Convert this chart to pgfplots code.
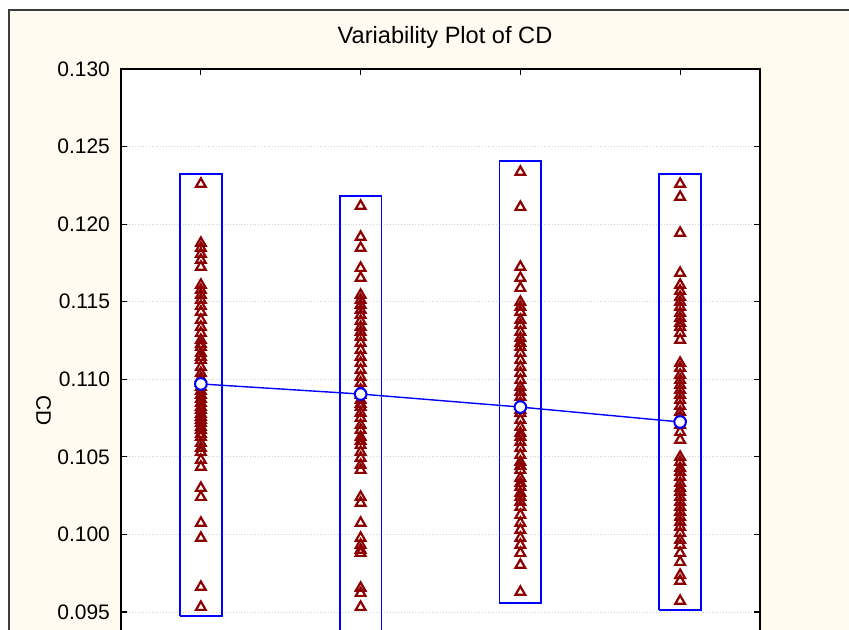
\documentclass[border=0pt]{standalone}
\usepackage{fontspec}
\setmainfont{Liberation Sans}
\usepackage{pgfplots}
\pgfplotsset{compat=1.18}
\definecolor{cream}{RGB}{255,251,240}
\definecolor{tri}{RGB}{140,0,0}
\definecolor{framegray}{RGB}{60,60,60}
\begin{document}
\begin{tikzpicture}
\fill[white] (0,0) rectangle (424.5pt,-315pt);
\filldraw[fill=cream, draw=framegray, line width=0.6pt] (4.5pt,-5pt) rectangle (470pt,-360pt);
\begin{axis}[
  at={(60.5pt,-34.5pt)}, anchor=north west,
  scale only axis, width=319.5pt, height=310.3pt,
  xmin=0.5, xmax=4.5, ymin=0.090, ymax=0.130,
  axis background/.style={fill=white},
  axis line style={black, line width=0.7pt},
  xtick={1,2,3,4}, xticklabels={},
  ytick={0.095,0.100,0.105,0.110,0.115,0.120,0.125,0.130},
  tick align=inside, tick pos=both, major tick length=3pt,
  tick style={black, line width=0.6pt},
  ymajorgrids, grid style={densely dotted, gray!35, line width=0.5pt},
  /pgf/number format/assume math mode=true,
  ticklabel style={font=\fontsize{10.5}{12}\selectfont},
  yticklabel style={/pgf/number format/fixed, /pgf/number format/precision=3, /pgf/number format/fixed zerofill, xshift=-2pt},
  scaled y ticks=false,
  clip=true,
]
% boxes
\addplot[blue, line width=0.9pt, line join=miter] coordinates {(0.869,0.09474) (1.131,0.09474) (1.131,0.12323) (0.869,0.12323) (0.869,0.09474)};
\addplot[blue, line width=0.9pt, line join=miter] coordinates {(1.869,0.0925) (2.131,0.0925) (2.131,0.12181) (1.869,0.12181) (1.869,0.0925)};
\addplot[blue, line width=0.9pt, line join=miter] coordinates {(2.869,0.09558) (3.131,0.09558) (3.131,0.12407) (2.869,0.12407) (2.869,0.09558)};
\addplot[blue, line width=0.9pt, line join=miter] coordinates {(3.869,0.09513) (4.131,0.09513) (4.131,0.12323) (3.869,0.12323) (3.869,0.09513)};
% points
\pgfplotsset{tris/.style={only marks, mark=triangle, mark size=2.8pt, tri, mark options={line width=1.1pt, tri}}}
\addplot[tris] coordinates {
(1,0.12259)(1,0.11878)(1,0.11846)(1,0.11808)(1,0.11769)(1,0.11724)(1,0.11608)(1,0.11575)(1,0.11543)(1,0.11511)
(1,0.11472)(1,0.11434)(1,0.11382)(1,0.11337)(1,0.11298)(1,0.11253)(1,0.11227)(1,0.11208)(1,0.11169)(1,0.11144)
(1,0.11124)(1,0.11079)(1,0.11040)(1,0.11008)(1,0.10976)(1,0.10950)(1,0.10924)(1,0.10899)(1,0.10873)(1,0.10847)
(1,0.10821)(1,0.10802)(1,0.10776)(1,0.10757)(1,0.10738)(1,0.10718)(1,0.10692)(1,0.10673)(1,0.10647)(1,0.10628)
(1,0.10589)(1,0.10557)(1,0.10531)(1,0.10480)(1,0.10435)(1,0.10299)(1,0.10241)(1,0.10074)(1,0.09977)(1,0.09661)
(1,0.09532)};
\addplot[tris] coordinates {
(2,0.12117)(2,0.11917)(2,0.11846)(2,0.11717)(2,0.11653)(2,0.11543)(2,0.11511)(2,0.11479)(2,0.11447)(2,0.11414)
(2,0.11376)(2,0.11337)(2,0.11305)(2,0.11273)(2,0.11234)(2,0.11189)(2,0.11144)(2,0.11105)(2,0.11060)(2,0.11015)
(2,0.10976)(2,0.10931)(2,0.10899)(2,0.10866)(2,0.10841)(2,0.10821)(2,0.10783)(2,0.10750)(2,0.10705)(2,0.10673)
(2,0.10628)(2,0.10602)(2,0.10576)(2,0.10531)(2,0.10493)(2,0.10447)(2,0.10415)(2,0.10241)(2,0.10203)(2,0.10074)
(2,0.09977)(2,0.09932)(2,0.09900)(2,0.09880)(2,0.09655)(2,0.09622)(2,0.09532)(2,0.09300)};
\addplot[tris] coordinates {
(3,0.12336)(3,0.12110)(3,0.11724)(3,0.11653)(3,0.11588)(3,0.11498)(3,0.11466)(3,0.11434)(3,0.11382)(3,0.11350)
(3,0.11305)(3,0.11266)(3,0.11234)(3,0.11208)(3,0.11169)(3,0.11124)(3,0.11079)(3,0.11040)(3,0.10995)(3,0.10950)
(3,0.10918)(3,0.10886)(3,0.10847)(3,0.10802)(3,0.10783)(3,0.10738)(3,0.10692)(3,0.10654)(3,0.10628)(3,0.10596)
(3,0.10557)(3,0.10512)(3,0.10467)(3,0.10441)(3,0.10415)(3,0.10364)(3,0.10331)(3,0.10306)(3,0.10267)(3,0.10241)
(3,0.10209)(3,0.10177)(3,0.10125)(3,0.10074)(3,0.10029)(3,0.09977)(3,0.09932)(3,0.09880)(3,0.09803)(3,0.09629)};
\addplot[tris] coordinates {
(4,0.12259)(4,0.12175)(4,0.11943)(4,0.11685)(4,0.11608)(4,0.11569)(4,0.11530)(4,0.11498)(4,0.11466)(4,0.11427)
(4,0.11395)(4,0.11363)(4,0.11337)(4,0.11298)(4,0.11253)(4,0.11105)(4,0.11073)(4,0.11028)(4,0.10995)(4,0.10963)
(4,0.10931)(4,0.10899)(4,0.10866)(4,0.10828)(4,0.10789)(4,0.10757)(4,0.10705)(4,0.10660)(4,0.10609)(4,0.10499)
(4,0.10467)(4,0.10428)(4,0.10402)(4,0.10370)(4,0.10331)(4,0.10299)(4,0.10273)(4,0.10241)(4,0.10209)(4,0.10177)
(4,0.10145)(4,0.10112)(4,0.10080)(4,0.10048)(4,0.10009)(4,0.09964)(4,0.09932)(4,0.09880)(4,0.09822)(4,0.09738)
(4,0.09700)(4,0.09571)};
% means
\addplot[blue, line width=0.7pt, mark=*, mark size=2.9pt, mark options={fill=white, draw=blue, line width=1pt}] coordinates {(1,0.10970)(2,0.10905)(3,0.10821)(4,0.10725)};
\end{axis}
\node[font=\fontsize{11.8}{14}\selectfont] at (222.5pt,-18.5pt) {Variability Plot of CD};
\node[rotate=-90, font=\fontsize{10.5}{12}\selectfont] at (21.75pt,-205.5pt) {CD};
\pgfresetboundingbox
\path[use as bounding box] (0,0) rectangle (424.5pt,-315pt);
\end{tikzpicture}
\end{document}
